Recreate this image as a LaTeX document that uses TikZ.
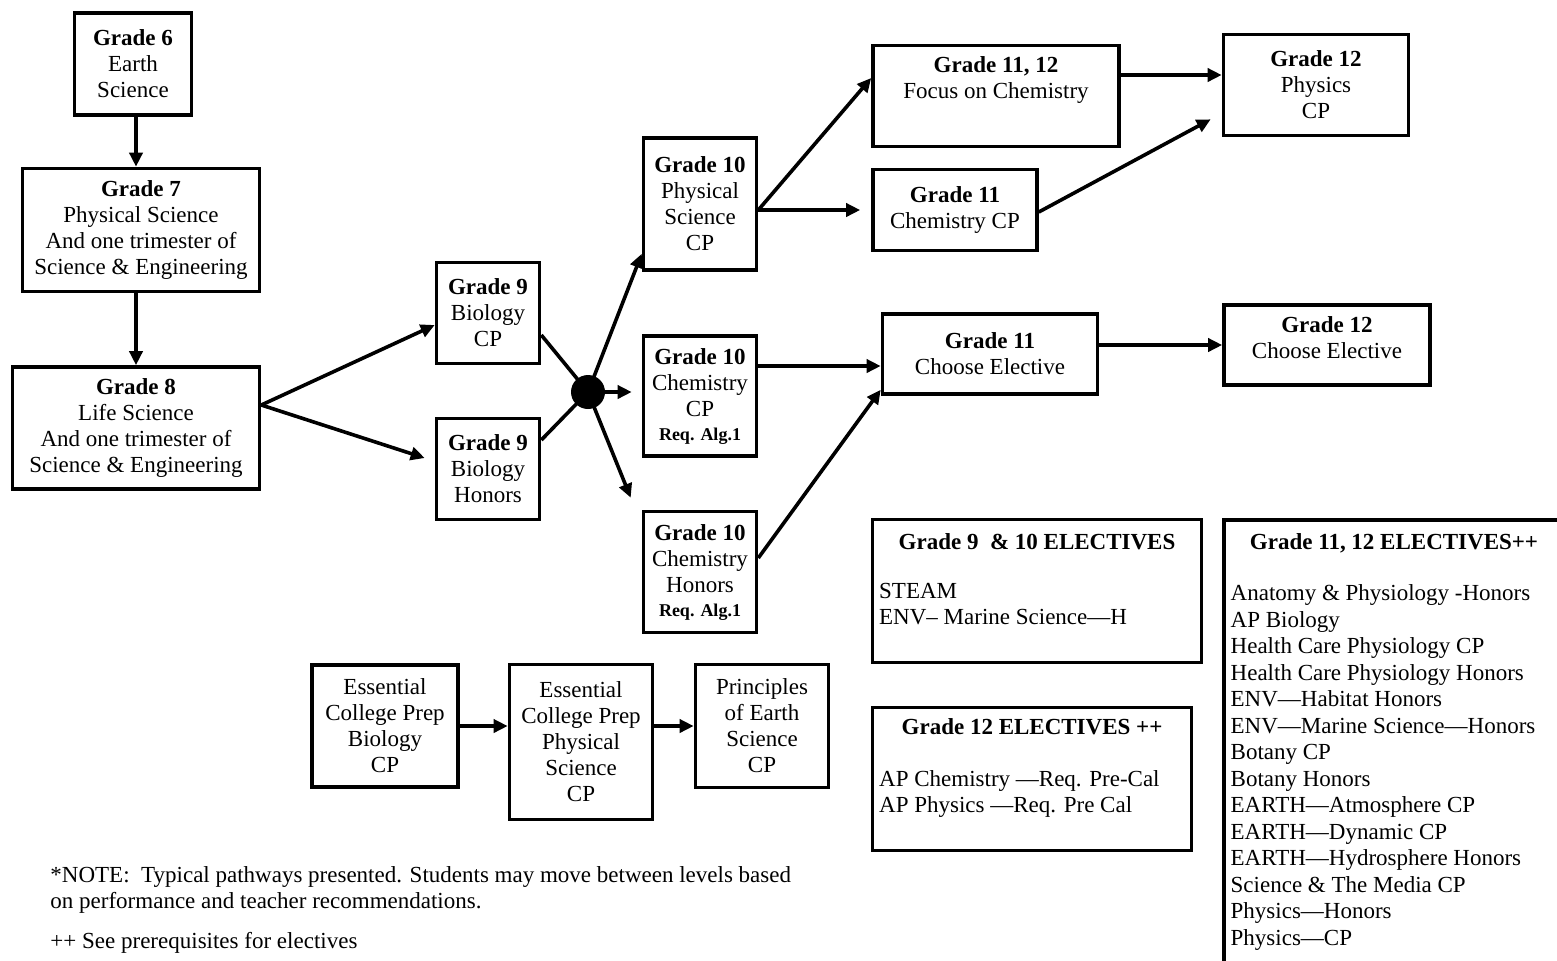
\documentclass[tikz,border=0pt]{standalone}
\usepackage{fontspec}
\setmainfont{Liberation Serif}
\usetikzlibrary{arrows.meta,calc,positioning}

\newcommand{\reqalg}{\\[-1pt]{\fontsize{9}{10}\selectfont\textbf{Req. Alg.1}}}

\begin{document}
\begin{tikzpicture}[x=0.5pt,y=-0.5pt,line width=1.8pt,
		font=\fontsize{11.5}{13}\selectfont,
		>={Triangle[length=7pt,width=6.5pt]},
		block/.style={draw,rectangle,align=center,inner sep=2pt},
		hub/.style={circle,fill=black,minimum size=17pt,inner sep=0pt},
		head/.style={anchor=north,align=center,yshift=-2pt},
		list/.style={anchor=north west,align=left,font=\fontsize{11.5}{13.25}\selectfont}]
		\useasboundingbox (0,0) rectangle (1557,960);

		% middle school
		\node[block,minimum width=58.5pt,minimum height=51pt] (g6) at (133,64) {\textbf{Grade 6}\\Earth\\Science};
		\node[block,minimum width=118.5pt,minimum height=61.5pt] (g7) at (141,230) {\textbf{Grade 7}\\Physical Science\\And one trimester of\\Science \& Engineering};
		\node[block,minimum width=123.5pt,minimum height=61pt] (g8) at (136,428) {\textbf{Grade 8}\\Life Science\\And one trimester of\\Science \& Engineering};

		% grade 9 and 10
		\node[block,minimum width=51.5pt,minimum height=50.5pt] (g9cp) at (488,313) {\textbf{Grade 9}\\Biology\\CP};
		\node[block,minimum width=51.5pt,minimum height=50.5pt,below of=g9cp,node distance=78pt] (g9h) {\textbf{Grade 9}\\Biology\\Honors};
		\node[hub] (hub) at (588,392) {};
		\node[block,minimum width=56.5pt,minimum height=66pt] (g10ps) at (700,204) {\textbf{Grade 10}\\Physical\\Science\\CP};
		\node[block,minimum width=56.5pt,minimum height=60pt,below of=g10ps,node distance=96pt] (g10ccp) {\textbf{Grade 10}\\Chemistry\\CP\reqalg};
		\node[block,minimum width=56.5pt,minimum height=60.5pt,below of=g10ccp,node distance=88pt] (g10ch) {\textbf{Grade 10}\\Chemistry\\Honors\reqalg};

		% grade 11 and 12
		\node[block,minimum width=123pt,minimum height=50.5pt,label={[head]north:{\textbf{Grade 11, 12}\\Focus on Chemistry}}] (g1112) at (996,96) {};
		\node[block,minimum width=82pt,minimum height=40.5pt] (g11ccp) at (955,210) {\textbf{Grade 11}\\Chemistry CP};
		\node[block,minimum width=92.5pt,minimum height=50.5pt] (g12p) at (1316,85) {\textbf{Grade 12}\\Physics\\CP};
		\node[block,minimum width=107.5pt,minimum height=40pt] (g11ce) at (990,354) {\textbf{Grade 11}\\Choose Elective};
		\node[block,minimum width=103pt,minimum height=40pt,label={[head,yshift=-0.5pt]north:{\textbf{Grade 12}\\Choose Elective}}] (g12ce) at (1327,345) {};

		% electives
		\node[block,minimum width=164.5pt,minimum height=71.5pt,
			label={[head,yshift=-1.5pt]north:{\textbf{Grade 9\ \ \& 10 ELECTIVES}}},
			label={[list,yshift=-28.5pt]north west:{STEAM\\ENV– Marine Science—H}}] (el910) at (1037,591) {};
		\node[block,minimum width=159.5pt,minimum height=71.5pt,
			label={[head]north:{\textbf{Grade 12 ELECTIVES ++}}},
			label={[list,yshift=-28pt]north west:{AP Chemistry —Req. Pre-Cal\\AP Physics —Req. Pre Cal}}] (el12) at (1032,779) {};
		\node[block,minimum width=170pt,minimum height=230pt,
			label={[head,yshift=-1.5pt]north:{\textbf{Grade 11, 12 ELECTIVES++}}},
			label={[list,yshift=-29pt]north west:{Anatomy \& Physiology -Honors\\AP Biology\\Health Care Physiology CP\\Health Care Physiology Honors\\ENV—Habitat Honors\\ENV—Marine Science—Honors\\Botany CP\\Botany Honors\\EARTH—Atmosphere CP\\EARTH—Dynamic CP\\EARTH—Hydrosphere Honors\\Science \& The Media CP\\Physics—Honors\\Physics—CP}}] (el1112) at (1394,750) {};

		% essential track
		\node[block,minimum width=73pt,minimum height=61pt] (ecp1) at (385,726) {Essential\\College Prep\\Biology\\CP};
		\node[block,minimum width=71.5pt,minimum height=77.5pt] (ecp2) at (581,742) {Essential\\College Prep\\Physical\\Science\\CP};
		\node[block,minimum width=66.5pt,minimum height=61.5pt] (pes) at (762,726) {Principles\\of Earth\\Science\\CP};

		\node[anchor=north west,align=left] (note) at (42,858) {*NOTE:\ \ Typical pathways presented. Students may move between levels based\\on performance and teacher recommendations.};
		\node[anchor=south west] (prereq) at (42,962) {++ See prerequisites for electives};

		\draw[->] (g8.north |- g6.south) -- (g8.north |- g7.north);
		\draw[->] (g8.north |- g7.south) -- (g8.north);
		\coordinate (split) at ([yshift=11.5pt]g8.east);
		\draw[->] (split) -- ([yshift=-6pt]g9cp.west);
		\draw[->] (split) -- ([xshift=-5pt,yshift=5.5pt]g9h.west);
		\draw ([yshift=-11pt]g9cp.east) -- (hub.center);
		\draw ([yshift=14.5pt]g9h.east) -- (hub.center);
		\draw[->] (hub.center) -- ([yshift=9pt]g10ps.south west);
		\draw[->] (hub.center) -- ($(hub -| g10ccp.west)+(-5pt,0)$);
		\draw[->] (hub.center) -- ([xshift=-5.5pt,yshift=6pt]g10ch.north west);
		\draw[->] ([yshift=-3pt]g10ps.east) -- ([yshift=9pt]g1112.west);
		\draw[->] ([yshift=-3pt]g10ps.east) -- ([xshift=-5.5pt]g11ccp.west);
		\coordinate (upper) at ([yshift=10.5pt]g1112.east);
		\draw[->] (upper) -- (upper -| g12p.west);
		\draw[->] ([yshift=-1pt]g11ccp.east) -- ([xshift=-5.5pt,yshift=9pt]g12p.south west);
		\coordinate (mid) at ([yshift=15pt]g10ccp.east);
		\draw[->] (mid) -- (mid -| g11ce.west);
		\draw[->] ([yshift=7pt]g10ch.east) -- ([yshift=3pt]g11ce.south west);
		\draw[->] (g11ce.east |- g12ce.west) -- (g12ce.west);
		\draw[->] (ecp1.east) -- (ecp1.east -| ecp2.west);
		\draw[->] (ecp2.east |- pes.west) -- (pes.west);
	\end{tikzpicture}
\end{document}
